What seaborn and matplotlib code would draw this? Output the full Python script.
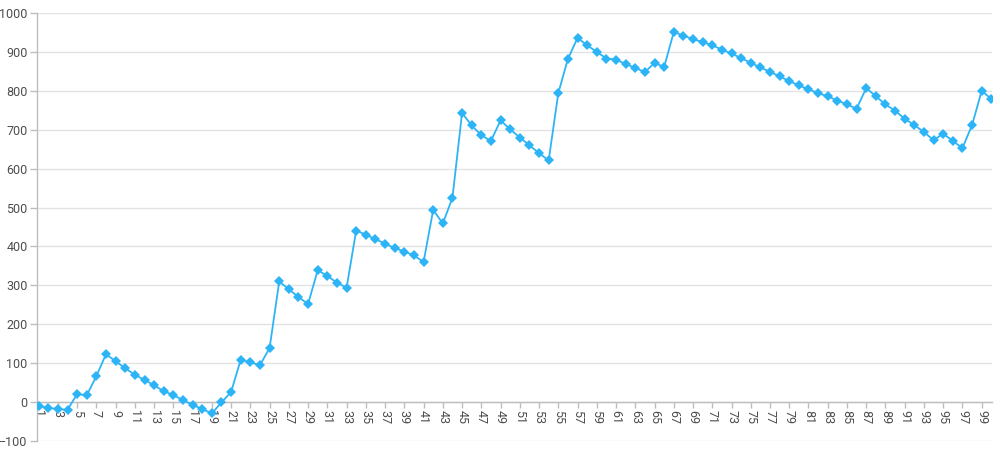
import matplotlib
matplotlib.use("Agg")
import matplotlib.pyplot as plt
import seaborn as sns

# values
days = list(range(1, 101))
values = [-10, -15, -18, -20, 21, 17, 67, 123, 105, 87,
          70, 57, 43, 28, 18, 5, -7, -18, -29, -1,
          26, 109, 102, 95, 139, 310, 290, 270, 252, 339,
          324, 307, 294, 441, 430, 419, 407, 396, 387, 377,
          360, 494, 459, 525, 743, 711, 686, 671, 724, 701,
          680, 660, 640, 621, 794, 882, 936, 917, 900, 883,
          880, 869, 859, 848, 872, 861, 951, 942, 933, 925,
          917, 906, 896, 884, 872, 860, 849, 837, 825, 814,
          804, 794, 786, 775, 765, 754, 807, 786, 765, 749,
          728, 712, 694, 673, 690, 671, 653, 712, 800, 779]
x_ticks = list(range(1, 100, 2))
y_ticks = list(range(-100, 1001, 100))

sns.set_style("white")
plt.rcParams['font.family'] = ['Roboto', 'DejaVu Sans']

line_color = "#2db4f6"
text_color = "#4d4d4d"
grid_color = "#e3e3e3"
axis_color = "#bdbdbd"

fig = plt.figure(figsize=(10, 4.55), dpi=100)
ax = fig.add_axes([0.0373, 0.0308, 0.9547, 0.9406])

sns.lineplot(x=days, y=values, ax=ax, color=line_color, linewidth=1.3,
             marker="D", markersize=5.5, markeredgewidth=0,
             markerfacecolor=line_color, zorder=3)

ax.set_xlim(0.86, 100.07)
ax.set_ylim(-100, 1000)
ax.set_yticks(y_ticks)
ax.set_xticks(x_ticks)
ax.set_xticklabels([str(t) for t in x_ticks])

ax.yaxis.grid(True, color=grid_color, linewidth=1)
ax.xaxis.grid(False)
ax.set_axisbelow(True)

for side in ["top", "right"]:
    ax.spines[side].set_visible(False)
ax.spines["left"].set_color(axis_color)
ax.spines["left"].set_linewidth(1)
ax.spines["bottom"].set_position(("data", 0))
ax.spines["bottom"].set_color(axis_color)
ax.spines["bottom"].set_linewidth(1)

ax.tick_params(axis="y", length=5, width=1, color=axis_color,
               labelsize=9, labelcolor=text_color, pad=2, left=True)
ax.tick_params(axis="x", length=4, width=1, color=axis_color,
               labelsize=9, labelcolor=text_color, pad=2, bottom=True,
               labelrotation=-90)
for lbl in ax.get_xticklabels():
    lbl.set_verticalalignment("top")
    lbl.set_horizontalalignment("center")

ax.set_xlabel("")
ax.set_ylabel("")

fig.savefig("out.png", dpi=100)
